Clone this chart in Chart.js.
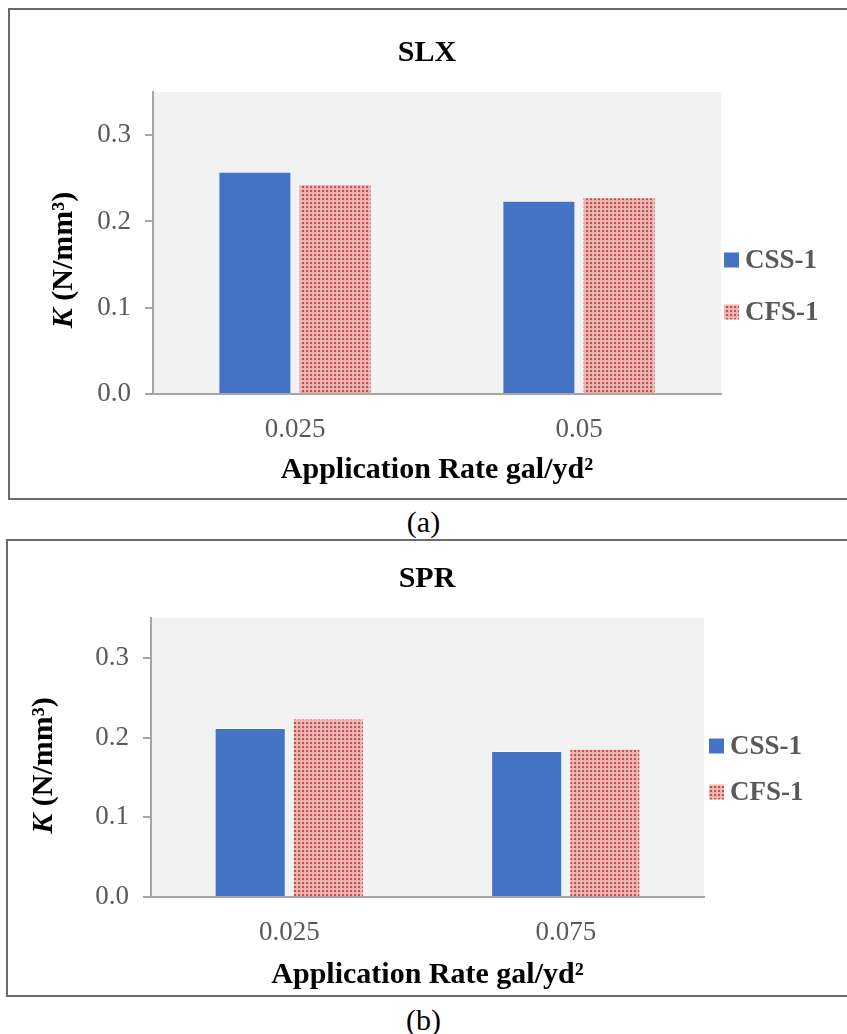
<!DOCTYPE html>
<html>
<head>
<meta charset="utf-8">
<script src="https://cdn.jsdelivr.net/npm/chart.js@4.4.1/dist/chart.umd.min.js"></script>
<style>
  body { margin: 0; width: 847px; height: 1034px; overflow: hidden; position: relative; background: #fff;
         font-family: "Liberation Serif", "Times New Roman", serif; }
  .box { position: absolute; border: 2px solid #6a6a6a; box-sizing: border-box; }
  .cap { position: absolute; left: 0; width: 847px; text-align: center; font-size: 30px; line-height: 36px; color: #000; }
  canvas { position: absolute; }
</style>
</head>
<body>
<div class="box" style="left:8px;top:8px;width:842px;height:492px"></div>
<canvas id="slx" width="836" height="487" style="left:10px;top:10px"></canvas>
<div class="cap" style="top:504px">(a)</div>
<div class="box" style="left:6px;top:539px;width:844px;height:458px"></div>
<canvas id="spr" width="836" height="452" style="left:10px;top:542px"></canvas>
<div class="cap" style="top:1002px">(b)</div>
<script>
// (a) SLX
const slxRates = ['0.025', '0.05'];
const slxCss = [0.2575, 0.224];
const slxCfs = [0.2435, 0.228];

// (b) SPR
const sprRates = ['0.025', '0.075'];
const sprCss = [0.212, 0.183];
const sprCfs = [0.224, 0.186];

const seriesNames = ['CSS-1', 'CFS-1'];
const yMax = 0.35;
const yStep = 0.1;

Chart.defaults.font.family = '"Liberation Serif", "Times New Roman", serif';
Chart.defaults.color = '#595959';

function dotPattern(ctx) {
  const tile = document.createElement('canvas');
  tile.width = 4;
  tile.height = 4;
  const g = tile.getContext('2d');
  g.fillStyle = '#e9b0b0';
  g.fillRect(0, 0, 4, 4);
  g.fillStyle = '#c94e4e';
  g.fillRect(0, 0, 2, 2);
  g.fillStyle = '#f6dada';
  g.fillRect(3, 3, 1, 1);
  return ctx.createPattern(tile, 'repeat');
}

const plotBackground = {
  id: 'plotBackground',
  beforeDraw(chart) {
    const { ctx, chartArea: a } = chart;
    ctx.save();
    ctx.fillStyle = '#f2f2f2';
    ctx.fillRect(a.left, a.top, a.right - a.left, a.bottom - a.top);
    ctx.restore();
  }
};

// chart title, y title with italic K, and the legend at the right side
const extras = {
  id: 'extras',
  afterDraw(chart, args, opts) {
    const { ctx, chartArea: a } = chart;
    const fam = Chart.defaults.font.family;

    ctx.save();
    ctx.fillStyle = '#000';
    ctx.font = 'bold 30px ' + fam;
    ctx.textAlign = 'center';
    ctx.textBaseline = 'middle';
    ctx.fillText(opts.title, opts.titleX, opts.titleY);
    ctx.restore();

    ctx.save();
    ctx.translate(opts.yTitleX, (a.top + a.bottom) / 2 + opts.yTitleDy);
    ctx.rotate(-Math.PI / 2);
    ctx.fillStyle = '#000';
    ctx.textBaseline = 'middle';
    const kFont = 'italic bold 30px ' + fam;
    const restFont = 'bold 30px ' + fam;
    const rest = ' (N/mm\u00B3)';
    ctx.font = kFont;
    const wk = ctx.measureText('K').width;
    ctx.font = restFont;
    const wr = ctx.measureText(rest).width;
    const x = -(wk + wr) / 2;
    ctx.textAlign = 'left';
    ctx.font = kFont;
    ctx.fillText('K', x, 0);
    ctx.font = restFont;
    ctx.fillText(rest, x + wk, 0);
    ctx.restore();

    ctx.save();
    ctx.font = 'bold 27px ' + fam;
    ctx.textBaseline = 'middle';
    ctx.textAlign = 'left';
    chart.data.datasets.forEach((ds, i) => {
      const y = a.top + opts.legendRows[i];
      ctx.fillStyle = ds.backgroundColor;
      ctx.fillRect(a.right + opts.legendDx, y - 7.5, 15, 15);
      ctx.fillStyle = '#595959';
      ctx.fillText(ds.label, a.right + opts.legendDx + 21, y + 1);
    });
    ctx.restore();
  }
};

function makeChart(id, title, rates, css, cfs, geo) {
  const canvas = document.getElementById(id);
  const ctx = canvas.getContext('2d');
  return new Chart(ctx, {
    type: 'bar',
    data: {
      labels: rates,
      datasets: [
        { label: seriesNames[0], data: css, backgroundColor: '#4472c4',
          borderColor: 'rgba(255,255,255,0.45)', borderWidth: 1 },
        { label: seriesNames[1], data: cfs, backgroundColor: dotPattern(ctx),
          borderColor: 'rgba(255,255,255,0.35)', borderWidth: 1 }
      ]
    },
    options: {
      responsive: false,
      animation: false,
      categoryPercentage: 0.565,
      barPercentage: 0.91,
      layout: { padding: { left: 0, right: geo.padRight, top: geo.padTop, bottom: 0 } },
      plugins: {
        legend: { display: false },
        tooltip: { enabled: false },
        title: { display: false },
        extras: Object.assign({ title: title }, geo.extras)
      },
      scales: {
        x: {
          grid: { display: false, drawTicks: false },
          border: { display: true, color: '#a6a6a6', width: 2 },
          ticks: { font: { size: 27 }, color: '#595959', padding: 20 },
          title: {
            display: true,
            text: 'Application Rate gal/yd\u00B2',
            color: '#000',
            font: { size: 30, weight: 'bold' },
            padding: { top: 0, bottom: geo.xTitleBottom }
          },
          afterFit(s) { s.height = geo.xHeight; }
        },
        y: {
          min: 0,
          max: yMax,
          grid: { display: true, drawOnChartArea: false, drawTicks: true, tickLength: 8,
                  color: '#a6a6a6', lineWidth: 2 },
          border: { display: true, color: '#a6a6a6', width: 2 },
          ticks: {
            stepSize: yStep,
            includeBounds: false,
            font: { size: 27 },
            color: '#595959',
            padding: 14,
            callback: v => v.toFixed(1)
          },
          afterFit(s) { s.width = geo.yWidth; }
        }
      }
    },
    plugins: [plotBackground, extras]
  });
}

makeChart('slx', 'SLX', slxRates, slxCss, slxCfs, {
  padRight: 125, padTop: 82, xHeight: 103, xTitleBottom: 9, yWidth: 143,
  extras: { titleX: 417, titleY: 43, yTitleX: 54, yTitleDy: 17, legendDx: 3, legendRows: [168, 220] }
});

makeChart('spr', 'SPR', sprRates, sprCss, sprCfs, {
  padRight: 142, padTop: 76, xHeight: 97, xTitleBottom: 1, yWidth: 141,
  extras: { titleX: 417, titleY: 37, yTitleX: 34, yTitleDy: 8, legendDx: 5, legendRows: [128, 174] }
});
</script>
</body>
</html>
